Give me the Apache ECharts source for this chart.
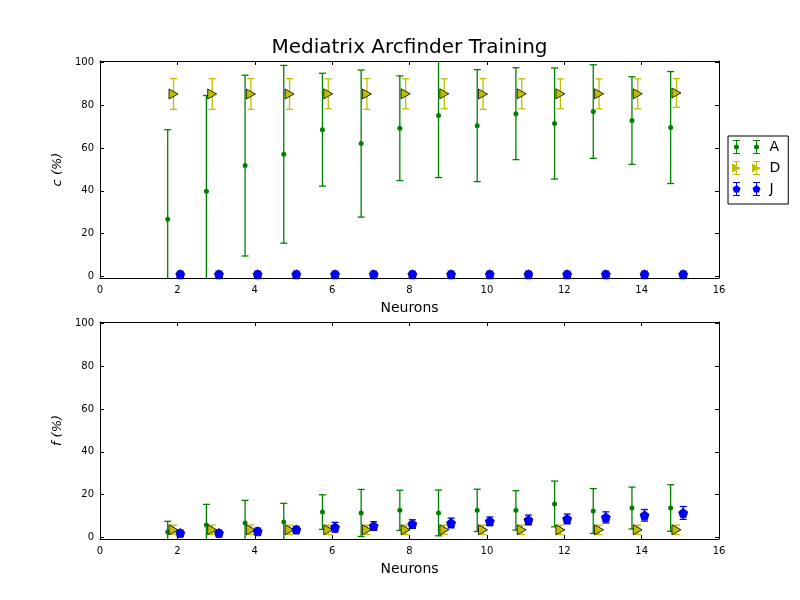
<!DOCTYPE html>
<html>
<head>
<meta charset="utf-8">
<script src="https://cdn.jsdelivr.net/npm/echarts@6/dist/echarts.min.js"></script>
<style>
  html, body { margin: 0; padding: 0; background: #fff; }
  #main { width: 800px; height: 600px; }
</style>
</head>
<body>
<div id="main"></div>
<script>
// neurons on the x axis
var neurons = [2, 3, 4, 5, 6, 7, 8, 9, 10, 11, 12, 13, 14, 15];
var xTicks = [0, 2, 4, 6, 8, 10, 12, 14, 16];
var yTicks = [0, 20, 40, 60, 80, 100];

// top panel: c (%)
var cA    = [26.7, 39.8, 51.8, 57.1, 68.6, 62.1, 69.3, 75.2, 70.5, 76.1, 71.5, 77.1, 72.9, 69.6];
var cAErr = [41.9, 44.8, 42.3, 41.6, 26.4, 34.4, 24.5, 29.0, 26.2, 21.5, 26.0, 21.9, 20.5, 26.2];
var cD    = [85.3, 85.3, 85.3, 85.3, 85.4, 85.3, 85.4, 85.4, 85.3, 85.4, 85.4, 85.4, 85.4, 85.8];
var cDErr = [7.2, 7.2, 7.2, 7.2, 7.0, 7.2, 7.0, 7.0, 7.2, 7.0, 7.0, 7.0, 7.0, 6.7];
var cJ    = [0.9, 0.9, 0.9, 0.9, 0.9, 0.9, 0.9, 0.9, 0.9, 0.9, 0.9, 0.9, 0.9, 0.9];
var cJErr = [1.5, 1.5, 1.5, 1.5, 1.5, 1.5, 1.5, 1.5, 1.5, 1.5, 1.5, 1.5, 1.5, 1.5];

// bottom panel: f (%)
var fA    = [2.5, 5.8, 6.7, 7.2, 11.8, 11.4, 12.6, 11.4, 12.6, 12.6, 15.6, 12.3, 13.7, 13.7];
var fAErr = [5.0, 9.6, 10.6, 8.7, 8.1, 11.0, 9.4, 10.7, 9.9, 9.2, 10.7, 10.5, 9.8, 10.9];
var fD    = [3.5, 3.5, 3.5, 3.5, 3.5, 3.5, 3.5, 3.5, 3.5, 3.5, 3.5, 3.5, 3.5, 3.5];
var fDErr = [2.2, 2.2, 2.2, 2.2, 2.2, 2.2, 2.2, 2.2, 2.2, 2.2, 2.2, 2.2, 2.2, 2.2];
var fJ    = [2.0, 2.0, 2.8, 3.6, 4.7, 5.3, 6.2, 6.7, 7.5, 8.1, 8.6, 9.3, 10.3, 11.4];
var fJErr = [1.3, 1.3, 1.5, 1.5, 2.3, 2.0, 2.0, 2.3, 2.0, 2.3, 2.3, 2.6, 2.7, 3.0];

(function () {
    var Y_MIN = -0.8, Y_MAX = 100.75;
    var FONT = 'DejaVu Sans';
    var green = '#008000', yellow = '#bfbf00', blue = '#0000ff';
    // horizontal dodge of each group around the neuron count
    var dodge = { A: -0.25, D: -0.1, J: 0.075 };

    var triRight = 'path://M0,0 L10,5 L0,10 Z';
    var pentagon = 'path://M5,0 L10,3.63 L8.09,9.51 L1.91,9.51 L0,3.63 Z';

    function pts(vals, errs, off) {
        return neurons.map(function (n, i) { return [n + off, vals[i], errs[i]]; });
    }

    // error bar drawn through the axes, clipped to the y range
    function errorBar(color) {
        return function (params, api) {
            var x = api.value(0), y = api.value(1), e = api.value(2);
            var lo = Math.max(y - e, Y_MIN), hi = Math.min(y + e, Y_MAX);
            var p0 = api.coord([x, lo]), p1 = api.coord([x, hi]);
            var st = { stroke: color, lineWidth: 1.3 };
            var kids = [{ type: 'line', shape: { x1: p0[0], y1: p0[1], x2: p1[0], y2: p1[1] }, style: st }];
            if (y - e >= Y_MIN) kids.push({ type: 'line', shape: { x1: p0[0] - 3.5, y1: p0[1], x2: p0[0] + 3.5, y2: p0[1] }, style: st });
            if (y + e <= Y_MAX) kids.push({ type: 'line', shape: { x1: p1[0] - 3.5, y1: p1[1], x2: p1[0] + 3.5, y2: p1[1] }, style: st });
            return { type: 'group', children: kids };
        };
    }

    function xAx(grid, bottom) {
        return {
            type: 'value', gridIndex: grid, position: bottom ? 'bottom' : 'top',
            min: 0, max: 16, interval: 2,
            name: bottom ? 'Neurons' : '', nameLocation: 'middle', nameGap: 23,
            nameTextStyle: { fontFamily: FONT, fontSize: 14, color: '#000' },
            axisLine: { show: true, onZero: false, lineStyle: { color: '#000', width: 1 } },
            axisTick: { show: true, inside: true, length: 4, lineStyle: { color: '#000' } },
            axisLabel: { show: bottom, fontFamily: FONT, fontSize: 10, color: '#000', margin: 7 },
            splitLine: { show: false }
        };
    }

    function yAx(grid, left, label) {
        return {
            type: 'value', gridIndex: grid, position: left ? 'left' : 'right',
            min: Y_MIN, max: Y_MAX,
            name: left ? label : '', nameLocation: 'middle', nameGap: 34,
            nameTextStyle: { fontFamily: FONT, fontSize: 13, fontStyle: 'italic', color: '#000' },
            axisLine: { show: true, onZero: false, lineStyle: { color: '#000', width: 1 } },
            axisTick: { show: true, inside: true, length: 4, customValues: yTicks, lineStyle: { color: '#000' } },
            axisLabel: { show: left, customValues: yTicks, fontFamily: FONT, fontSize: 10, color: '#000', margin: 6 },
            splitLine: { show: false }
        };
    }

    function group(name, vals, errs, xi, color, sym, size, border) {
        var data = pts(vals, errs, dodge[name]);
        return [
            {
                name: name, type: 'custom', xAxisIndex: xi, yAxisIndex: xi,
                renderItem: errorBar(color), data: data, z: 2, silent: true
            },
            {
                name: name, type: 'scatter', xAxisIndex: xi, yAxisIndex: xi,
                symbol: sym, symbolSize: size, data: data, z: 3,
                itemStyle: { color: color, borderColor: border || color, borderWidth: border ? 0.8 : 0, opacity: 1 }
            }
        ];
    }

    // legend icons: two error bars with markers side by side
    function bar(cx) {
        return 'M' + (cx - 3.5) + ',0 L' + (cx + 3.5) + ',0 L' + (cx + 3.5) + ',1 L' + (cx + 0.5) + ',1 L' + (cx + 0.5) + ',13 L' +
            (cx + 3.5) + ',13 L' + (cx + 3.5) + ',14 L' + (cx - 3.5) + ',14 L' + (cx - 3.5) + ',13 L' + (cx - 0.5) + ',13 L' +
            (cx - 0.5) + ',1 L' + (cx - 3.5) + ',1 Z ';
    }
    function dot(cx) { return 'M' + (cx - 2.5) + ',7 a2.5,2.5 0 1,1 5,0 a2.5,2.5 0 1,1 -5,0 Z '; }
    function tri(cx) { return 'M' + (cx - 4.5) + ',2.5 L' + (cx + 4.5) + ',7 L' + (cx - 4.5) + ',11.5 Z '; }
    function pent(cx) {
        return 'M' + cx + ',3 L' + (cx + 4) + ',5.9 L' + (cx + 2.5) + ',10.6 L' + (cx - 2.5) + ',10.6 L' + (cx - 4) + ',5.9 Z ';
    }
    var iconA = 'path://' + bar(5) + dot(5) + bar(25) + dot(25);
    var iconD = 'path://' + bar(5) + tri(5) + bar(25) + tri(25);
    var iconJ = 'path://' + bar(5) + pent(5) + bar(25) + pent(25);

    var myChart = echarts.init(document.querySelector('#main'));
    var option = {
        animation: false,
        backgroundColor: '#fff',
        title: {
            text: 'Mediatrix Arcfinder Training',
            left: 409.5, top: 38, textAlign: 'center', padding: 0,
            textStyle: { fontFamily: FONT, fontSize: 20, fontWeight: 'normal', color: '#000' }
        },
        legend: {
            orient: 'vertical', left: 728, top: 136,
            padding: [4, 8, 8, 4], itemGap: 7, itemWidth: 30, itemHeight: 14,
            borderColor: '#000', borderWidth: 1, backgroundColor: '#fff',
            textStyle: { fontFamily: FONT, fontSize: 14, color: '#000', padding: [0, 0, 0, 3] },
            data: [
                { name: 'A', icon: iconA, itemStyle: { color: green, borderWidth: 0 } },
                { name: 'D', icon: iconD, itemStyle: { color: yellow, borderWidth: 0 } },
                { name: 'J', icon: iconJ, itemStyle: { color: blue, borderWidth: 0 } }
            ]
        },
        grid: [
            { left: 100, top: 61, width: 619, height: 217, show: false },
            { left: 100, top: 322, width: 619, height: 217, show: false }
        ],
        xAxis: [xAx(0, true), xAx(0, false), xAx(1, true), xAx(1, false)],
        yAxis: [yAx(0, true, 'c (%)'), yAx(0, false), yAx(1, true, 'f (%)'), yAx(1, false)],
        series: [].concat(
            group('A', cA, cAErr, 0, green, 'circle', 5),
            group('D', cD, cDErr, 0, yellow, triRight, [9, 10], '#000'),
            group('J', cJ, cJErr, 0, blue, pentagon, 9, '#000080'),
            group('A', fA, fAErr, 2, green, 'circle', 5),
            group('D', fD, fDErr, 2, yellow, triRight, [9, 10], '#000'),
            group('J', fJ, fJErr, 2, blue, pentagon, 9, '#000080')
        )
    };
    // secondary axes (top/right) only carry ticks; map series to left/bottom ones
    option.series.forEach(function (s) { s.yAxisIndex = s.xAxisIndex; });
    myChart.setOption(option);
    window.addEventListener('resize', function () {
        myChart.resize();
    });
})();
</script>
</body>
</html>
